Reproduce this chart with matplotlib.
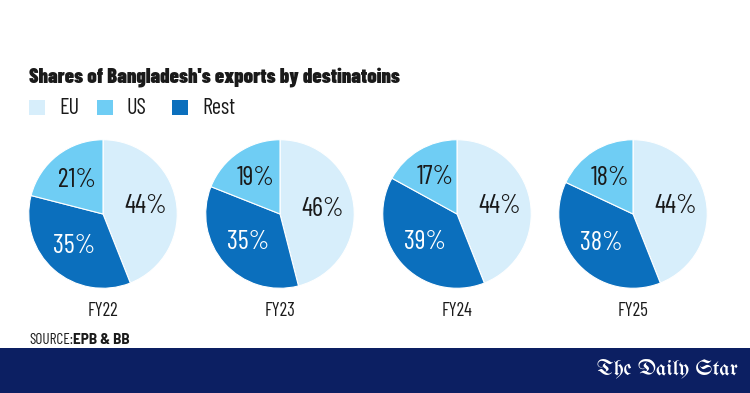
import matplotlib.pyplot as plt
from matplotlib.patches import Rectangle

# data
years = ['FY22', 'FY23', 'FY24', 'FY25']
eu = [44, 46, 44, 44]
us = [21, 19, 17, 18]
rest = [35, 35, 39, 38]

legend_labels = ['EU', 'US', 'Rest']
colors = {'EU': '#d7eefb', 'US': '#6fcdf4', 'Rest': '#0b6fbd'}
navy = '#0c1f62'
dark = '#1a1a1a'

W, H = 750, 393
narrow = ['Barlow Condensed', 'DejaVu Sans']
heavy = ['Barlow Semi Condensed', 'DejaVu Sans']
gothic = ['UnifrakturMaguntia', 'UnifrakturCook', 'Liberation Serif', 'DejaVu Serif']

fig = plt.figure(figsize=(W / 100, H / 100), dpi=100)
fig.patch.set_facecolor('white')


def px(x, y):
    # pixel coords (from top-left) to figure fraction
    return x / W, 1 - y / H


# title
fig.text(*px(29, 77), "Shares of Bangladesh's exports by destinatoins",
         fontsize=14.8, fontweight=900, family=narrow,
         color=dark, va='center', ha='left')

# legend
sq_x = [29, 97, 172]
for x0, lab in zip(sq_x, legend_labels):
    fig.patches.append(Rectangle(px(x0, 115), 16 / W, 15 / H, transform=fig.transFigure,
                                 facecolor=colors[lab], edgecolor='none'))
    fig.text(*px(x0 + 30, 108), lab, fontsize=16, family=narrow, color=dark,
             va='center', ha='left')

# pies
centers = [103, 280, 457, 633]
cy = 214
r = 75
for i, yr in enumerate(years):
    cx = centers[i]
    ax = fig.add_axes([(cx - r) / W, 1 - (cy + r) / H, 2 * r / W, 2 * r / H])
    vals = [eu[i], rest[i], us[i]]
    cols = [colors['EU'], colors['Rest'], colors['US']]
    wedges, texts, autotexts = ax.pie(
        vals, colors=cols, startangle=90, counterclock=False,
        autopct='%d%%', pctdistance=0.58,
        wedgeprops=dict(edgecolor='white', linewidth=0.8))
    for j, t in enumerate(autotexts):
        t.set_fontsize(19)
        t.set_family(narrow)
        t.set_color('white' if j == 1 else dark)
    ax.set_xlim(-1.01, 1.01)
    ax.set_ylim(-1.01, 1.01)
    ax.set_aspect('equal')
    ax.axis('off')
    fig.text(*px(cx, 311), yr, fontsize=13.5, family=narrow, color=dark,
             ha='center', va='center')

# source
src = fig.text(*px(29, 340), 'SOURCE:', fontsize=11, family=narrow, color=dark,
               va='center', ha='left')
fig.canvas.draw()
bb = src.get_window_extent()
fig.text(bb.x1 / W, 1 - 340 / H, 'EPB & BB', fontsize=11, fontweight='bold',
         family=heavy, color=dark, va='center', ha='left')

# footer band
fig.patches.append(Rectangle((0, 0), 1, (H - 348) / H, transform=fig.transFigure,
                             facecolor=navy, edgecolor='none'))
fig.text(*px(738, 369), 'The Daily Star', fontsize=16, family=gothic,
         color='white', ha='right', va='center')

fig.savefig('out.png', dpi=100)
